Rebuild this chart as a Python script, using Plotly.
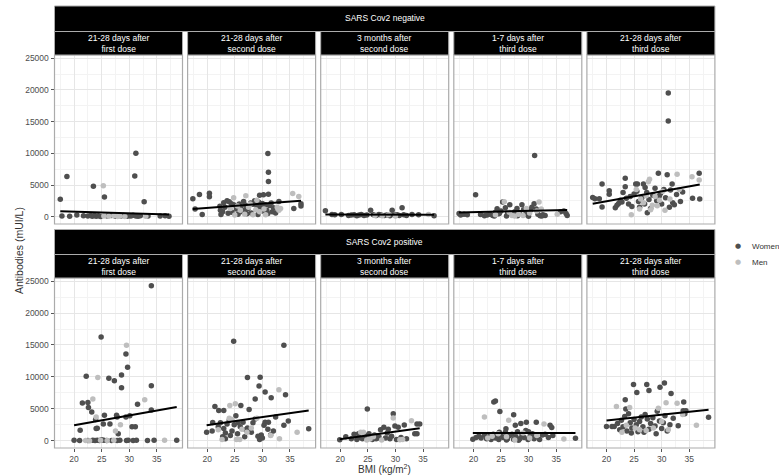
import plotly.graph_objects as go

W, H = 779, 475

status_labels = ["SARS Cov2 negative", "SARS Cov2 positive"]
time_labels = ["21-28 days after<br>first dose", "21-28 days after<br>second dose",
               "3 months after<br>second dose", "1-7 days after<br>third dose",
               "21-28 days after<br>third dose"]
x_ticks = [20, 25, 30, 35]
y_ticks = [0, 5000, 10000, 15000, 20000, 25000]
y_tick_text = ["0", "5000", "10000", "15000", "20000", "25000"]
legend_labels = ["Women", "Men"]

# ---------------- SARS Cov2 negative ----------------
neg_first_women = [(17.5, 2750), (18.7, 6350), (23.5, 4800), (25.5, 3100), (31.2, 10000), (31.0, 6400),
                   (32.7, 2350), (17.8, 120), (19.2, 80), (20.5, 250), (21.7, 150), (22.5, 100), (23.0, 180),
                   (23.3, 60), (23.7, 200), (24.0, 90), (24.4, 150), (24.8, 50), (26.0, 120), (26.8, 200),
                   (27.5, 80), (28.5, 100), (29.0, 180), (29.6, 60), (30.0, 150), (30.3, 100), (30.7, 220),
                   (31.2, 120), (31.6, 80), (32.0, 150), (33.4, 100), (35.6, 120), (36.5, 150), (37.2, 80)]
neg_first_men = [(25.3, 4900), (25.4, 100), (26.3, 60), (27.2, 150), (27.9, 40), (28.3, 120), (29.2, 50),
                 (33.0, 80)]

neg_second_women = [(17.4, 2830), (17.8, 1200), (18.6, 3510), (19.1, 360), (20.4, 3700), (20.4, 3150),
                    (31.0, 9950), (31.1, 7000), (31.1, 5550), (30.2, 3450), (29.5, 3400), (31.1, 3550),
                    (35.7, 1300), (37.0, 1700), (37.0, 2050), (22.3, 1650), (22.4, 1000), (23.0, 2200),
                    (23.2, 1500), (23.6, 2500), (24.0, 2350), (24.4, 2050), (24.8, 1900), (25.3, 1200),
                    (25.8, 2000), (26.1, 1600), (26.6, 2400), (27.0, 1800), (27.4, 1300), (27.9, 2150),
                    (28.3, 1950), (28.6, 2500), (29.0, 1700), (29.3, 2300), (29.6, 1500), (30.0, 2100),
                    (30.5, 1900), (30.8, 1000), (31.3, 1750), (31.6, 2150), (32.0, 1400), (32.4, 600),
                    (33.0, 2400), (22.5, 350), (23.8, 550), (24.5, 700), (25.6, 400), (26.4, 800),
                    (27.2, 450), (28.0, 600), (29.2, 350), (30.1, 900), (31.0, 500), (22.8, 800),
                    (26.9, 1100), (29.8, 1200), (31.8, 800)]
neg_second_men = [(35.5, 3650), (36.6, 3200), (27.0, 3300), (24.8, 3000), (25.5, 1700), (26.0, 1000),
                  (26.8, 400), (27.5, 1500), (28.3, 300), (28.8, 1100), (29.5, 800), (30.3, 1200),
                  (30.6, 300), (32.7, 1500), (33.0, 1000), (33.3, 1300), (24.2, 1300), (25.0, 250),
                  (27.8, 2000), (29.0, 2600)]

neg_3m_women = [(17.3, 940), (18.5, 350), (19.0, 300), (20.2, 330), (21.5, 200), (22.0, 250), (22.5, 300),
                (23.0, 150), (23.4, 250), (23.8, 350), (24.3, 200), (24.8, 250), (25.5, 1000), (26.0, 300),
                (26.5, 200), (27.0, 350), (27.4, 250), (28.0, 200), (28.5, 300), (29.0, 150), (29.4, 1000),
                (29.8, 250), (30.3, 300), (30.7, 200), (31.2, 1410), (31.5, 300), (32.0, 200), (33.0, 350),
                (34.2, 300), (37.0, 150)]
neg_3m_men = [(26.3, 200), (27.6, 150), (28.7, 300), (36.0, 350), (30.0, 100)]

neg_third1_women = [(17.4, 500), (17.7, 250), (18.3, 400), (18.9, 300), (20.4, 3460), (21.3, 350),
                    (22.0, 150), (22.5, 250), (23.0, 400), (23.5, 200), (24.0, 700), (24.3, 1270),
                    (24.7, 500), (25.0, 900), (25.3, 2300), (25.8, 1400), (26.2, 600), (26.6, 1890),
                    (27.0, 300), (27.5, 800), (27.9, 1300), (28.3, 500), (28.8, 1890), (29.1, 1100),
                    (29.5, 350), (29.9, 700), (30.3, 1000), (30.6, 1500), (31.0, 2050), (31.1, 9640),
                    (31.4, 1200), (31.7, 400), (32.1, 150), (32.6, 300), (33.0, 200), (35.8, 800),
                    (36.4, 900), (37.0, 200), (36.8, 500), (23.8, 100), (26.0, 100), (28.0, 150),
                    (30.0, 80), (32.4, 100), (24.5, 450)]
neg_third1_men = [(25.6, 2350), (31.9, 2300), (27.0, 200), (27.5, 100), (28.2, 400), (29.0, 200),
                  (30.2, 600), (31.5, 900), (32.3, 1200), (35.2, 400), (26.5, 700), (24.0, 300),
                  (29.6, 1300)]

neg_third21_women = [(17.5, 3030), (17.9, 2830), (18.7, 2830), (19.2, 5140), (19.2, 1530), (20.5, 4090),
                     (20.5, 3560), (21.6, 1400), (21.9, 1800), (22.2, 2100), (22.5, 2600), (22.8, 2300),
                     (23.4, 6080), (23.4, 4740), (23.6, 2900), (24.0, 2000), (24.3, 3200), (24.6, 1600),
                     (25.0, 3600), (25.3, 5140), (25.6, 5140), (25.5, 4000), (25.8, 2400), (26.0, 1500),
                     (26.4, 3000), (26.7, 5140), (26.9, 2000), (27.3, 3800), (27.4, 630), (27.7, 2700),
                     (28.0, 1300), (28.4, 3400), (28.8, 4500), (29.1, 2500), (29.4, 6860), (29.8, 3700),
                     (30.0, 2000), (30.4, 4300), (30.7, 3000), (31.0, 6600), (31.2, 19500), (31.2, 15100),
                     (31.4, 1500), (31.6, 4200), (32.0, 2200), (32.3, 1900), (32.7, 3500), (33.4, 2400),
                     (33.8, 3900), (35.6, 2930), (36.9, 2780), (36.8, 6860), (31.9, 5140), (23.0, 3800),
                     (27.0, 4600), (29.6, 3300)]
neg_third21_men = [(24.5, 310), (27.8, 5900), (27.6, 5500), (25.4, 4300), (26.2, 2800), (26.7, 2200),
                   (27.2, 3300), (28.0, 1100), (28.3, 1800), (28.8, 3200), (29.2, 1730), (29.6, 2600),
                   (30.2, 4000), (31.5, 2800), (32.8, 6700), (33.2, 4300), (35.5, 6300), (36.8, 5800),
                   (30.6, 1000), (26.0, 1200)]

# ---------------- SARS Cov2 positive ----------------
pos_first_women = [(20.0, 50), (21.1, 1640), (21.5, 5900), (22.2, 10100), (22.5, 6000), (22.6, 5200),
                   (23.2, 4500), (23.9, 3300), (24.0, 1900), (24.2, 1950), (24.9, 16250), (25.3, 2600),
                   (25.5, 4000), (26.3, 9800), (26.5, 2600), (27.3, 9400), (27.7, 4000), (27.8, 3700),
                   (28.0, 1100), (28.6, 10300), (28.6, 8300), (29.4, 13600), (29.7, 11500), (29.4, 3700),
                   (30.1, 3900), (30.5, 2200), (31.1, 2200), (31.5, 5700), (34.0, 8600), (34.0, 4800),
                   (34.0, 24300), (21.0, 30), (22.5, 20), (23.4, 60), (23.8, 30), (24.2, 80), (24.6, 40),
                   (25.0, 150), (25.4, 50), (25.9, 20), (26.8, 40), (27.8, 30), (28.3, 60), (29.5, 20),
                   (29.8, 50), (30.7, 40), (31.3, 60), (33.3, 40), (34.5, 80), (38.6, 50)]
pos_first_men = [(24.3, 9900), (29.5, 14950), (27.5, 1500), (28.4, 2500), (32.8, 6400), (23.4, 6550),
                 (24.0, 3700), (22.1, 40), (26.0, 30), (27.2, 60), (24.8, 50), (36.4, 70), (22.8, 0)]

pos_second_women = [(24.8, 15570), (33.9, 14950), (27.3, 9900), (29.6, 9930), (29.4, 8580), (30.5, 7640),
                    (31.6, 6740), (28.7, 6530), (34.2, 7200), (21.4, 5370), (22.1, 4740), (23.0, 4740),
                    (26.1, 5530), (27.6, 4890), (30.5, 2900), (31.1, 2900), (32.4, 3700), (34.7, 3100),
                    (33.9, 2400), (38.4, 1850), (19.9, 1320), (20.9, 1500), (21.0, 2840), (22.0, 2200),
                    (22.4, 2800), (23.0, 1900), (23.3, 1200), (23.6, 2600), (24.0, 3200), (24.2, 800),
                    (24.5, 1500), (24.9, 2500), (25.2, 3900), (25.5, 1100), (25.6, 2800), (26.0, 2200),
                    (26.5, 2900), (26.8, 600), (27.0, 1700), (27.3, 2000), (27.6, 1500), (27.8, 1800),
                    (28.0, 1300), (28.3, 2800), (28.7, 3400), (29.2, 700), (29.5, 200), (29.8, 900),
                    (30.0, 400), (30.3, 2400), (31.0, 1800), (31.5, 900), (32.0, 1500), (23.3, 300),
                    (22.8, 600)]
pos_second_men = [(24.1, 5530), (25.1, 5780), (33.0, 8000), (36.3, 1320), (22.7, 200), (24.5, 3300),
                  (24.0, 3500), (25.3, 200), (25.9, 200), (26.3, 1800), (28.0, 2000), (31.5, 800),
                  (33.1, 300), (22.0, 1700), (27.2, 1300), (29.0, 3500)]

pos_3m_women = [(19.9, 150), (21.0, 600), (22.0, 300), (22.5, 1000), (23.0, 200), (23.5, 500), (24.0, 300),
                (24.5, 800), (24.9, 4950), (25.2, 1100), (25.5, 400), (25.8, 200), (26.2, 900), (26.5, 300),
                (27.0, 600), (27.3, 1700), (27.9, 2100), (28.2, 400), (28.7, 1800), (29.0, 300), (29.3, 700),
                (29.6, 4200), (29.9, 2300), (30.2, 200), (30.5, 2100), (31.0, 500), (31.6, 2470), (32.0, 300),
                (33.5, 1070), (33.9, 1070), (33.9, 2630), (34.4, 2630), (23.3, 1100), (26.8, 400),
                (28.5, 1200)]
pos_3m_men = [(23.7, 1300), (24.2, 1300), (29.6, 3540), (32.9, 3110), (24.8, 100), (25.4, 250), (27.5, 100),
              (30.8, 150), (26.0, 600), (31.3, 200)]

pos_third1_women = [(23.7, 6050), (24.0, 6200), (24.8, 4580), (27.3, 4050), (28.6, 2700), (29.6, 2900),
                    (27.6, 2400), (31.4, 2900), (33.9, 2400), (34.2, 2050), (25.9, 1850), (38.5, 370),
                    (19.9, 220), (20.5, 500), (21.0, 700), (21.4, 400), (22.0, 900), (22.4, 300), (22.8, 600),
                    (23.2, 200), (23.6, 1000), (24.0, 400), (24.3, 700), (24.6, 200), (25.0, 900), (25.4, 500),
                    (25.8, 1300), (26.2, 300), (26.6, 800), (27.0, 1000), (27.3, 200), (27.7, 600),
                    (28.0, 1400), (28.4, 300), (28.8, 900), (29.2, 500), (29.5, 1600), (29.9, 200),
                    (30.3, 700), (30.7, 1100), (31.0, 300), (31.4, 600), (32.0, 200), (32.5, 900),
                    (33.0, 1000), (33.6, 500), (34.4, 800), (30.0, 1400), (26.0, 100), (28.2, 50),
                    (24.7, 1300)]
pos_third1_men = [(22.0, 3700), (26.4, 3200), (32.8, 2600), (36.4, 260), (23.4, 700), (24.5, 1100),
                  (26.0, 600), (27.5, 100), (29.0, 1200), (30.2, 400), (31.5, 800), (22.6, 400)]

pos_third21_women = [(24.9, 8790), (27.3, 8790), (30.5, 9050), (29.7, 8360), (25.5, 7570), (27.7, 7880),
                     (31.7, 7400), (23.4, 6420), (23.5, 4950), (34.0, 6050), (33.9, 4700), (34.4, 4700),
                     (38.5, 3690), (33.0, 2340), (20.0, 2210), (21.0, 2210), (21.4, 2210), (22.0, 2700),
                     (22.4, 1700), (22.7, 3200), (23.0, 2200), (23.3, 3800), (23.7, 1500), (24.0, 4200),
                     (24.3, 2800), (24.6, 2000), (25.0, 3300), (25.4, 2500), (25.7, 1400), (26.0, 3000),
                     (26.3, 3700), (26.6, 2200), (27.0, 4100), (27.4, 3400), (27.7, 1800), (28.0, 2700),
                     (28.4, 3600), (28.8, 2300), (29.2, 4600), (29.6, 3100), (30.0, 1900), (30.3, 2800),
                     (30.6, 3900), (31.0, 1500), (31.5, 2500), (32.1, 3500), (34.2, 4200), (24.5, 1200),
                     (26.8, 1300), (29.0, 1100)]
pos_third21_men = [(21.8, 5370), (24.2, 5200), (29.4, 5100), (30.8, 5950), (32.8, 5850), (36.3, 2430),
                   (31.2, 1700), (22.8, 1300), (23.6, 2400), (25.2, 2000), (26.0, 1700), (27.2, 1600),
                   (28.5, 2000), (30.0, 3000), (33.8, 4100)]

# fitted (lm) line values at the smallest and largest BMI of each panel
fit_neg = [(870, 360), (1210, 2510), (360, 310), (680, 1050), (2040, 5080)]
fit_pos = [(2430, 5270), (2430, 4740), (220, 1950), (1210, 1210), (3160, 4840)]

women_panels = [[neg_first_women, neg_second_women, neg_3m_women, neg_third1_women, neg_third21_women],
                [pos_first_women, pos_second_women, pos_3m_women, pos_third1_women, pos_third21_women]]
men_panels = [[neg_first_men, neg_second_men, neg_3m_men, neg_third1_men, neg_third21_men],
              [pos_first_men, pos_second_men, pos_3m_men, pos_third1_men, pos_third21_men]]
fits = [fit_neg, fit_pos]

WOMEN_C = "#4f4f4f"
MEN_C = "#bebebe"
FONT = "Liberation Sans, Arial, sans-serif"

# ---------------- layout geometry (pixels) ----------------
panel_w, gap = 128.0, 5.1
col_left = [54.5 + i * (panel_w + gap) for i in range(5)]
row_top = [55.0, 278.0]
row_bot = [224.0, 448.0]
outer_top = [6.0, 229.5]
inner_top = [31.0, 254.0]


def px(x):
    return x / W


def py(y):
    return 1 - y / H


fig = go.Figure()
shapes = []
annotations = []

for r in range(2):
    for c in range(5):
        k = r * 5 + c + 1
        xa = "x" if k == 1 else f"x{k}"
        ya = "y" if k == 1 else f"y{k}"
        wpts = women_panels[r][c]
        mpts = men_panels[r][c]
        fig.add_trace(go.Scatter(
            x=[p[0] for p in wpts], y=[p[1] for p in wpts], mode="markers",
            marker=dict(color=WOMEN_C, size=5.5, line=dict(width=0)),
            name="Women", showlegend=False, xaxis=xa, yaxis=ya))
        fig.add_trace(go.Scatter(
            x=[p[0] for p in mpts], y=[p[1] for p in mpts], mode="markers",
            marker=dict(color=MEN_C, size=5.5, line=dict(width=0)),
            name="Men", showlegend=False, xaxis=xa, yaxis=ya))
        allx = [p[0] for p in wpts + mpts]
        f0, f1 = fits[r][c]
        fig.add_trace(go.Scatter(
            x=[min(allx), max(allx)], y=[f0, f1], mode="lines",
            line=dict(color="black", width=2), showlegend=False,
            xaxis=xa, yaxis=ya, hoverinfo="skip"))

        xl, xr = col_left[c], col_left[c] + panel_w
        yt, yb = row_top[r], row_bot[r]
        xkey = "xaxis" if k == 1 else f"xaxis{k}"
        ykey = "yaxis" if k == 1 else f"yaxis{k}"
        fig.update_layout(**{
            xkey: dict(domain=[px(xl), px(xr)], anchor=ya, range=[16.45, 39.65],
                       tickvals=x_ticks, ticktext=[str(v) for v in x_ticks], showticklabels=(r == 1),
                       ticks="outside" if r == 1 else "", ticklen=3, tickcolor="#555555",
                       tickfont=dict(size=8.5, color="#4d4d4d", family=FONT), automargin=False,
                       showgrid=True, gridcolor="#e6e6e6", gridwidth=1, zeroline=False,
                       showline=False,
                       minor=dict(tickvals=[17.5, 22.5, 27.5, 32.5, 37.5], showgrid=True,
                                  gridcolor="#f3f3f3", gridwidth=0.6)),
            ykey: dict(domain=[py(yb), py(yt)], anchor=xa, range=[-1150, 25500],
                       tickvals=y_ticks, ticktext=y_tick_text, showticklabels=(c == 0),
                       ticks="outside" if c == 0 else "", ticklen=3, tickcolor="#555555",
                       tickfont=dict(size=8.5, color="#4d4d4d", family=FONT), automargin=False,
                       showgrid=True, gridcolor="#e6e6e6", gridwidth=1, zeroline=False,
                       showline=False,
                       minor=dict(tickvals=[2500, 7500, 12500, 17500, 22500], showgrid=True,
                                  gridcolor="#f3f3f3", gridwidth=0.6)),
        })
        # panel border
        shapes.append(dict(type="rect", xref="paper", yref="paper",
                           x0=px(xl), x1=px(xr), y0=py(yb), y1=py(yt),
                           line=dict(color="#ababab", width=1.2), fillcolor="rgba(0,0,0,0)",
                           layer="above"))
        # inner strip
        shapes.append(dict(type="rect", xref="paper", yref="paper",
                           x0=px(xl), x1=px(xr), y0=py(yt), y1=py(inner_top[r]),
                           line=dict(color="#ababab", width=1), fillcolor="black", layer="above"))
        annotations.append(dict(xref="paper", yref="paper", x=px((xl + xr) / 2),
                                y=py((inner_top[r] + yt) / 2), text=time_labels[c],
                                showarrow=False, xanchor="center", yanchor="middle",
                                font=dict(size=8.5, color="white", family=FONT)))
    # outer strip
    shapes.append(dict(type="rect", xref="paper", yref="paper",
                       x0=px(col_left[0]), x1=px(col_left[4] + panel_w),
                       y0=py(inner_top[r] + 0.5), y1=py(outer_top[r]),
                       line=dict(color="#ababab", width=1), fillcolor="black", layer="above"))
    annotations.append(dict(xref="paper", yref="paper",
                            x=px((col_left[0] + col_left[4] + panel_w) / 2),
                            y=py((outer_top[r] + inner_top[r]) / 2), text=status_labels[r],
                            showarrow=False, xanchor="center", yanchor="middle",
                            font=dict(size=8.5, color="white", family=FONT)))

# axis titles
annotations.append(dict(xref="paper", yref="paper", x=px((col_left[0] + col_left[4] + panel_w) / 2),
                        y=py(469), text="BMI (kg/m<sup>2</sup>)", showarrow=False,
                        xanchor="center", yanchor="middle",
                        font=dict(size=10, color="#333333", family=FONT)))
annotations.append(dict(xref="paper", yref="paper", x=px(19), y=py(251),
                        text="Antibodies (mUI/L)", showarrow=False, textangle=-90,
                        xanchor="center", yanchor="middle",
                        font=dict(size=10.5, color="#333333", family=FONT)))

# legend keys (drawn as text)
for i, (lab, col) in enumerate(zip(legend_labels, [WOMEN_C, MEN_C])):
    yy = 246 + 16 * i
    annotations.append(dict(xref="paper", yref="paper", x=px(738), y=py(yy), text="●",
                            showarrow=False, xanchor="center", yanchor="middle",
                            font=dict(size=7, color=col, family="DejaVu Sans")))
    annotations.append(dict(xref="paper", yref="paper", x=px(750), y=py(yy), text=lab,
                            showarrow=False, xanchor="left", yanchor="middle",
                            font=dict(size=8, color="#333333", family=FONT)))

fig.update_layout(
    width=W, height=H, margin=dict(l=0, r=0, t=0, b=0, autoexpand=False),
    paper_bgcolor="white", plot_bgcolor="white",
    shapes=shapes, annotations=annotations,
    showlegend=False,
)

fig.write_html("out.html", config={"displayModeBar": False},
               post_script="document.body.style.margin='0px';document.body.style.overflow='hidden';")
